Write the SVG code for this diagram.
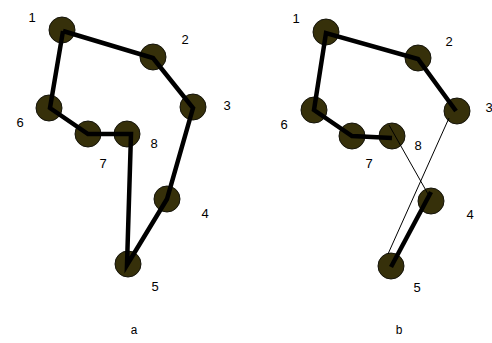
<svg xmlns="http://www.w3.org/2000/svg" width="492" height="343" viewBox="0 0 492 343">
  <style>
    .node { fill: #36300a; stroke: #14130a; stroke-width: 1; }
    .thick { stroke: #000; stroke-width: 4.5; stroke-linecap: butt; fill: none; }
    .thin { stroke: #000; stroke-width: 1; fill: none; }
    .num { font-family: "Liberation Sans", Arial, sans-serif; font-size: 13px; fill: #000; text-anchor: middle; }
    .cap { font-family: "Liberation Mono", "Courier New", monospace; font-size: 12px; fill: #000; text-anchor: middle; }
  </style>
  <rect width="492" height="343" fill="#fff"/>

  <!-- tour a -->
  <g id="a-nodes">
    <g id="a1"><circle class="node" cx="62" cy="30" r="13"/><text class="num" x="32" y="22">1</text></g>
    <g id="a2"><circle class="node" cx="153" cy="57" r="13"/><text class="num" x="185" y="44">2</text></g>
    <g id="a3"><circle class="node" cx="193" cy="107" r="13"/><text class="num" x="227" y="110">3</text></g>
    <g id="a4"><circle class="node" cx="167" cy="199" r="13"/><text class="num" x="205" y="218">4</text></g>
    <g id="a5"><circle class="node" cx="128" cy="264" r="13"/><text class="num" x="155" y="291">5</text></g>
    <g id="a6"><circle class="node" cx="49" cy="108" r="13"/><text class="num" x="20" y="127">6</text></g>
    <g id="a7"><circle class="node" cx="88" cy="134" r="13"/><text class="num" x="103" y="168">7</text></g>
    <g id="a8"><circle class="node" cx="127" cy="134" r="13"/><text class="num" x="154" y="148">8</text></g>
  </g>
  <g id="a-edges">
    <polyline class="thick" points="63,31 153,58 193,108 167,199 127,265 131,134 88,134 50,108 63,31"/>
  </g>
  <text class="cap" x="134" y="334">a</text>

  <!-- tour b -->
  <g id="b-nodes">
    <g id="b1"><circle class="node" cx="326" cy="32" r="13"/><text class="num" x="296" y="23">1</text></g>
    <g id="b2"><circle class="node" cx="418" cy="58" r="13"/><text class="num" x="449" y="46">2</text></g>
    <g id="b3"><circle class="node" cx="457" cy="111" r="13"/><text class="num" x="489" y="112">3</text></g>
    <g id="b4"><circle class="node" cx="431" cy="201" r="13"/><text class="num" x="470" y="219">4</text></g>
    <g id="b5"><circle class="node" cx="391" cy="266" r="13"/><text class="num" x="417" y="292">5</text></g>
    <g id="b6"><circle class="node" cx="314" cy="110" r="13"/><text class="num" x="284" y="129">6</text></g>
    <g id="b7"><circle class="node" cx="352" cy="136" r="13"/><text class="num" x="369" y="168">7</text></g>
    <g id="b8"><circle class="node" cx="392" cy="136" r="13"/><text class="num" x="418" y="150">8</text></g>
  </g>
  <g id="b-edges">
    <polyline class="thick" points="456,111 418,59 326,33 314,110 352,136 392,138"/>
    <line class="thick" x1="431" y1="192" x2="391" y2="267"/>
    <line class="thin" x1="389" y1="125" x2="428" y2="194"/>
    <line class="thin" x1="449" y1="118" x2="388" y2="254"/>
  </g>
  <text class="cap" x="399" y="334">b</text>
</svg>
